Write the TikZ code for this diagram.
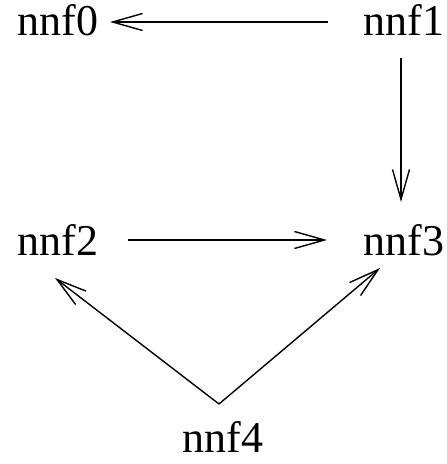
\documentclass[tikz,border=0pt]{standalone}
\usepackage{fontspec}
\setmainfont{Liberation Serif}
\usetikzlibrary{arrows.meta}
\begin{document}
\begin{tikzpicture}[x=1pt,y=1pt,
  lbl/.style={anchor=base,inner sep=0pt,font=\fontsize{44}{44}\selectfont},
  arr/.style={line width=1.4pt,-{Straight Barb[length=30pt,width=17pt]}}]
\useasboundingbox (0,0) rectangle (447,464);
\node[lbl] (n0) at (58,428) {nnf0};
\node[lbl] (n1) at (404,428) {nnf1};
\node[lbl] (n2) at (58,208) {nnf2};
\node[lbl] (n3) at (404,208) {nnf3};
\node[lbl] (n4) at (223,11) {nnf4};
\draw[arr] ([shift={(-76,14)}]n1.base) -- ([shift={(52,14)}]n0.base);
\draw[arr] ([shift={(-3,-22)}]n1.base) -- ([shift={(-3,54)}]n3.base);
\draw[arr] ([shift={(70,16)}]n2.base) -- ([shift={(-77,16)}]n3.base);
\draw[arr] ([shift={(-4,49)}]n4.base) -- ([shift={(-3,-22)}]n2.base);
\draw[arr] ([shift={(-4,49)}]n4.base) -- ([shift={(-24,-12)}]n3.base);
\end{tikzpicture}
\end{document}
